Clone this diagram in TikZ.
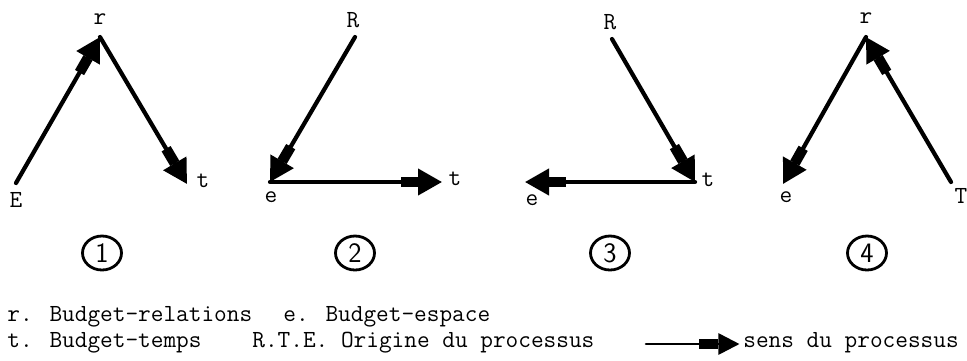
\documentclass[tikz,border=0pt]{standalone}
\usetikzlibrary{arrows.meta, shapes.geometric}

\begin{document}
\begin{tikzpicture}[
    x=0.02cm, y=-0.02cm,
    font=\ttfamily\fontsize{14}{17}\selectfont,
    flow/.style={line width=2.4pt, line cap=round,
        -{Rectangle[length=3.4mm, width=2.1mm] Triangle[length=4.8mm, width=5.2mm]}},
    legendflow/.style={line width=1.5pt, line cap=round,
        -{Rectangle[length=4mm, width=2mm] Triangle[length=4.2mm, width=4.2mm]}},
    lbl/.style={inner sep=0pt},
    num/.style={draw, line width=1.6pt, ellipse, minimum width=0.78cm, minimum height=0.68cm,
        inner sep=0pt, font=\sffamily\fontsize{16}{19}\selectfont},
    ]

    \useasboundingbox (0,0) rectangle (967,360);

    % ==========================================
    % Schema 1 : E -> r -> t
    % ==========================================
    \coordinate (E1) at (16,183);
    \coordinate (r1) at (100,37);
    \coordinate (t1) at (187,184);
    \node[lbl] (E1lab) at (16,200) {E};
    \node[lbl] (r1lab) at (100,19) {r};
    \node[lbl] (t1lab) at (203,181) {t};
    \draw[flow] (E1) -- (r1);
    \draw[flow] (r1) -- (t1);

    % ==========================================
    % Schema 2 : R -> e -> t
    % ==========================================
    \coordinate (R2) at (355,37);
    \coordinate (e2) at (270,182);
    \coordinate (t2) at (442,182);
    \node[lbl] (R2lab) at (353,20) {R};
    \node[lbl] (e2lab) at (271,197) {e};
    \node[lbl] (t2lab) at (455,179) {t};
    \draw[flow] (R2) -- (e2);
    \draw[flow] (e2) -- (t2);

    % ==========================================
    % Schema 3 : R -> t -> e
    % ==========================================
    \coordinate (R3) at (612,39);
    \coordinate (t3) at (695,182);
    \coordinate (e3) at (525,182);
    \node[lbl] (R3lab) at (610,22) {R};
    \node[lbl] (t3lab) at (708,180) {t};
    \node[lbl] (e3lab) at (532,200) {e};
    \draw[flow] (R3) -- (t3);
    \draw[flow] (t3) -- (e3);

    % ==========================================
    % Schema 4 : T -> r -> e
    % ==========================================
    \coordinate (T4) at (951,182);
    \coordinate (r4) at (866,37);
    \coordinate (e4) at (783,184);
    \node[lbl] (T4lab) at (961,196) {T};
    \node[lbl] (r4lab) at (866,18) {r};
    \node[lbl] (e4lab) at (786,197) {e};
    \draw[flow] (T4) -- (r4);
    \draw[flow] (r4) -- (e4);

    % ==========================================
    % Numbers
    % ==========================================
    \foreach \n/\x in {1/102, 2/355, 3/610, 4/867}
    {
        \node[num] (num-\n) at (\x,253) {\n};
    }

    % ==========================================
    % Legend
    % ==========================================
    \node[lbl, anchor=west] (leg-r) at (7,317) {r. Budget-relations};
    \node[lbl, anchor=west] (leg-t) at (7,343) {t. Budget-temps};
    \node[lbl, anchor=west] (leg-e) at (283,317) {e. Budget-espace};
    \node[lbl, anchor=west] (leg-rte) at (252,343) {R.T.E. Origine du processus};
    \node[lbl, anchor=west] (leg-sens) at (743,343) {sens du processus};
    \coordinate (leg-start) at (646,344);
    \draw[legendflow] (leg-start) -- ([xshift=-2pt]leg-sens.west |- leg-start);

\end{tikzpicture}
\end{document}
